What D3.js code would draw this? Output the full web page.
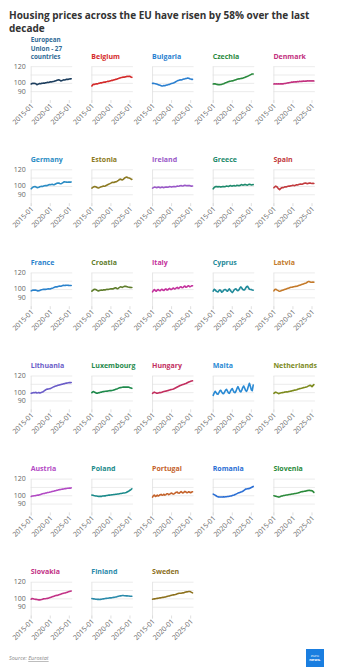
<!DOCTYPE html>
<html><head><meta charset="utf-8">
<script src="https://cdn.jsdelivr.net/npm/d3@7"></script>
<style>
html,body{margin:0;padding:0;background:#fff;}
svg{display:block;font-family:"Open Sans",sans-serif;}
</style></head><body>
<svg id="c" width="360" height="672"></svg>
<script>
const quarters = [
"2015-01","2015-04","2015-07","2015-10","2016-01","2016-04","2016-07","2016-10",
"2017-01","2017-04","2017-07","2017-10","2018-01","2018-04","2018-07","2018-10",
"2019-01","2019-04","2019-07","2019-10","2020-01","2020-04","2020-07","2020-10",
"2021-01","2021-04","2021-07","2021-10","2022-01","2022-04","2022-07","2022-10",
"2023-01","2023-04","2023-07","2023-10","2024-01","2024-04","2024-07","2024-10",
"2025-01","2025-04","2025-07"];

const countries = ["European Union - 27 countries","Belgium","Bulgaria","Czechia","Denmark",
"Germany","Estonia","Ireland","Greece","Spain",
"France","Croatia","Italy","Cyprus","Latvia",
"Lithuania","Luxembourg","Hungary","Malta","Netherlands",
"Austria","Poland","Portugal","Romania","Slovenia",
"Slovakia","Finland","Sweden"];

const lineColors = ["#1d3e5e","#d42a2a","#2a7fd0","#2a8a3e","#c2307e",
"#2b8cc4","#8c7a22","#9a58c8","#1d8a6c","#c23a3e",
"#2a82cc","#5f7d2c","#c4319c","#1f8a9a","#c47a2a",
"#6a5cc8","#1f8a4c","#c22e5e","#2a8ad4","#7c8a1c",
"#b24ac4","#1a8a8a","#c4622a","#2a6ed4","#2a8a3a",
"#c23286","#2a8aaa","#8c701c"];

const labelColors = ["#2f6a96","#d42a2a","#2a7fd0","#2a8a3e","#c2307e",
"#2b8cc4","#8c7a22","#9a58c8","#1d8a6c","#c23a3e",
"#2a82cc","#5f7d2c","#c4319c","#1f8a9a","#c47a2a",
"#6a5cc8","#1f8a4c","#c22e5e","#2a8ad4","#7c8a1c",
"#b24ac4","#1a8a8a","#c4622a","#2a6ed4","#2a8a3a",
"#c23286","#2a8aaa","#8c701c"];

const eu = [99.2,99.8,100.2,99.8, 100.0,99.4,98.4,98.8, 99.4,99.8,99.6,100.0, 100.2,100.4,100.2,100.8, 100.8,101.2,101.0,101.4, 101.8,101.6,102.0,102.2, 102.4,102.8,103.2,103.6, 104.0,104.2,103.8,103.0, 103.2,103.6,104.2,104.0, 104.4,104.8,105.0,104.8, 105.2,105.4,105.6];
const belgium = [96.8,98.4,99.0,98.8, 99.2,99.6,99.4,100.0, 100.2,100.6,100.4,101.0, 101.2,101.6,101.4,102.0, 102.2,102.6,102.4,103.0, 103.2,103.6,103.6,104.2, 104.4,104.8,105.0,105.6, 105.8,106.4,106.6,107.0, 107.2,107.6,107.4,107.8, 108.0,108.4,108.2,108.6, 108.4,107.6,107.2];
const bulgaria = [100.0,100.2,99.8,99.6, 99.2,98.8,98.4,98.0, 97.6,97.2,96.8,97.0, 97.4,97.2,97.6,98.0, 98.2,98.6,98.8,99.4, 99.8,100.2,100.4,101.0, 101.6,102.4,103.0,103.4, 103.8,104.2,104.0,104.4, 104.8,105.2,105.4,105.8, 106.0,106.4,106.2,105.6, 105.2,104.8,104.8];
const czechia = [99.2,99.6,99.4,99.0, 98.8,98.4,98.6,98.4, 98.6,98.8,99.2,99.6, 100.2,100.6,101.0,101.6, 102.0,102.4,102.6,102.8, 103.0,103.2,103.6,104.0, 104.4,104.8,105.2,105.4, 105.6,105.8,106.0,106.2, 106.6,107.0,107.6,108.0, 108.4,109.0,109.6,110.2, 110.8,111.2,111.2];
const denmark = [99.2,99.4,99.2,99.4, 99.2,99.4,99.2,99.6, 99.4,99.6,99.4,99.8, 99.8,100.2,100.4,100.6, 100.8,101.0,101.2,101.6, 101.4,101.8,101.6,102.0, 101.8,102.2,102.0,102.4, 102.2,102.6,102.4,102.8, 102.6,102.8,102.6,103.0, 102.8,103.0,102.8,103.0, 102.8,103.0,102.8];
const germany = [97.2,98.4,99.2,99.6, 99.8,99.4,98.8,98.6, 99.0,99.6,100.0,100.2, 100.0,100.4,100.8,101.2, 101.0,101.2,101.8,102.2, 102.0,102.4,102.6,102.2, 102.0,102.6,103.2,103.8, 104.0,104.2,103.6,103.2, 103.6,104.4,105.2,105.6, 105.4,105.2,105.0,105.2, 105.4,105.2,105.4];
const estonia = [98.0,98.8,99.6,100.0, 99.6,99.0,98.4,98.2, 98.6,99.2,99.6,100.0, 100.4,100.2,100.6,101.2, 101.8,102.4,102.8,103.4, 104.0,104.8,105.0,104.8, 105.2,105.6,105.8,106.6, 107.4,108.4,108.8,108.2, 107.8,108.6,109.6,110.6, 111.2,111.0,110.4,110.2, 109.8,109.0,108.4];
const ireland = [98.0,98.6,99.2,99.0, 98.6,98.8,99.4,99.0, 98.4,98.8,99.2,98.8, 98.6,99.0,99.4,99.2, 99.0,99.4,99.8,99.6, 99.2,99.6,100.0,99.8, 99.6,100.0,100.4,100.2, 100.4,100.8,101.0,100.6, 100.6,101.0,101.4,101.2, 100.8,101.0,101.2,101.0, 100.6,100.4,100.6];
const greece = [97.2,98.6,99.6,100.0, 99.8,99.4,99.8,99.6, 99.2,99.6,100.0,99.8, 99.6,100.0,100.4,100.2, 100.0,100.6,101.0,100.6, 100.4,100.8,101.0,100.6, 100.8,101.4,101.2,101.0, 101.2,101.8,102.2,101.6, 101.8,102.4,102.2,101.8, 101.6,102.2,102.6,102.2, 101.8,102.0,102.2];
const spain = [98.4,99.6,100.4,99.8, 98.4,97.0,96.2,97.4, 98.4,98.8,98.6,99.2, 99.6,99.4,99.8,100.2, 100.6,100.4,100.8,101.0, 101.4,101.2,101.0,101.6, 102.0,101.8,102.2,102.6, 103.0,102.6,102.8,103.4, 103.8,104.2,103.8,103.4, 103.6,104.0,104.2,103.8, 103.6,103.8,103.6];
const france = [98.4,99.0,99.4,99.2, 99.6,99.2,98.8,98.4, 98.6,99.0,99.4,99.8, 100.0,100.2,100.4,100.2, 100.4,100.6,100.8,100.6, 100.8,101.2,101.6,102.0, 102.6,103.0,103.4,103.2, 103.6,104.0,104.2,104.0, 104.4,104.8,105.0,104.8, 105.0,105.2,105.2,105.0, 104.8,104.8,104.8];
const croatia = [98.0,99.0,100.0,100.4, 100.0,99.4,98.6,98.4, 98.8,99.2,99.4,99.2, 99.6,99.8,99.6,100.0, 100.2,100.0,100.4,100.6, 100.8,101.0,100.6,101.2, 101.8,102.2,101.4,101.0, 101.8,102.6,103.2,103.0, 102.6,103.2,103.8,104.0, 103.8,103.4,103.0,102.8, 102.6,102.4,102.4];
const italy = [97.2,99.0,100.0,98.6, 98.0,99.4,100.0,98.8, 98.6,99.8,100.4,99.2, 99.0,100.2,100.8,99.6, 99.6,100.8,101.4,100.0, 100.2,101.2,101.8,100.6, 101.0,102.2,102.6,101.4, 101.8,103.0,103.4,102.2, 102.4,103.6,104.2,102.8, 103.2,104.2,104.6,103.4, 103.8,104.4,104.6];
const cyprus = [98.0,100.4,99.6,98.2, 97.6,97.2,98.6,99.6, 98.6,96.8,97.6,99.2, 100.0,100.0,98.6,98.0, 99.6,100.8,99.0,97.6, 96.4,97.8,99.6,100.6, 100.8,99.2,98.6,99.6, 101.8,103.2,101.8,100.0, 99.6,99.6,101.6,103.4, 104.0,102.2,100.4,100.0, 100.0,99.4,99.2];
const latvia = [98.4,100.0,100.4,99.6, 99.0,98.4,98.0,98.2, 98.8,99.2,99.6,100.0, 100.4,100.8,101.2,101.6, 102.0,102.4,102.8,102.8, 103.2,103.4,103.6,103.8, 104.0,104.4,104.8,105.2, 105.6,106.0,106.4,106.8, 107.2,107.6,108.0,108.8, 109.6,109.6,109.2,108.8, 108.8,109.0,108.8];
const lithuania = [99.2,99.6,100.0,99.8, 100.0,100.4,99.6,99.8, 100.2,99.6,100.0,100.4, 100.8,101.6,102.4,103.2, 104.0,104.2,104.4,104.6, 104.8,105.4,106.0,106.6, 107.2,107.6,108.0,108.4, 108.8,109.0,109.4,109.6, 110.0,110.2,110.6,110.8, 111.2,111.4,111.6,111.8, 112.0,112.0,112.2];
const luxembourg = [100.0,101.0,101.2,100.4, 99.8,99.2,99.4,99.8, 100.0,100.4,100.6,101.0, 101.2,101.4,101.6,101.6, 101.8,102.0,102.2,102.4, 102.4,102.6,102.8,103.2, 103.6,104.0,104.4,104.8, 105.4,105.8,106.0,106.2, 106.4,106.6,106.8,106.6, 106.8,106.6,106.8,106.4, 106.0,105.6,105.2];
const hungary = [99.2,100.2,100.6,100.0, 99.4,99.2,99.6,100.0, 100.0,100.2,100.6,101.0, 101.4,101.6,101.8,102.2, 102.4,102.8,103.2,103.6, 103.8,104.0,104.4,105.0, 105.6,106.2,106.8,107.4, 108.0,108.6,109.0,109.4, 109.8,110.2,110.6,111.0, 111.6,112.2,112.8,113.2, 113.6,114.0,114.2];
const malta = [96.8,99.4,101.6,100.2, 98.4,98.0,100.0,102.2, 102.8,100.6,99.0,98.8, 101.0,103.0,104.0,101.8, 99.6,99.2,101.4,103.6, 104.8,102.4,100.4,100.0, 102.0,105.0,107.2,104.6, 101.8,100.8,103.0,106.0, 108.0,105.6,102.6,101.6, 104.0,108.0,111.2,107.6, 103.4,102.4,109.0];
const netherlands = [99.2,100.2,100.6,100.0, 99.4,98.8,99.2,99.6, 99.8,100.0,100.2,100.6, 100.8,101.0,100.8,101.2, 101.4,101.6,101.8,102.2, 102.4,102.8,103.0,103.2, 103.4,104.0,104.4,104.8, 105.0,105.2,105.6,106.0, 106.2,106.4,106.8,107.2, 107.8,108.4,108.8,108.2, 107.2,108.4,109.6];
const austria = [99.2,99.6,99.8,100.0, 100.0,100.4,100.6,100.8, 100.8,101.2,101.6,102.0, 102.4,102.6,102.8,103.2, 103.4,103.8,104.0,104.2, 104.6,104.8,105.2,105.4, 105.6,106.0,106.2,106.6, 106.8,107.2,107.4,107.6, 107.8,108.0,108.2,108.4, 108.6,108.8,109.0,109.0, 109.2,109.2,109.4];
const poland = [100.8,100.6,100.2,100.0, 99.8,99.6,99.4,99.2, 99.2,99.4,99.2,99.6, 99.8,100.0,99.8,100.2, 100.4,100.6,100.8,100.8, 101.0,101.2,101.2,101.4, 101.6,101.8,101.8,102.0, 102.2,102.4,102.6,102.8, 103.0,103.2,103.4,103.6, 104.0,104.6,105.2,105.8, 106.6,107.4,108.4];
const portugal = [98.4,100.2,100.8,99.2, 99.6,100.8,99.8,100.4, 101.2,101.6,100.6,101.0, 101.8,100.8,101.4,102.4, 102.4,101.4,101.8,102.8, 103.2,102.4,102.0,102.6, 103.6,104.2,104.4,103.2, 103.0,104.0,105.0,104.0, 103.4,104.2,105.2,104.6, 103.6,104.0,104.8,104.2, 103.6,104.4,104.8];
const romania = [102.0,101.4,100.8,100.0, 99.2,98.8,98.4,98.6, 98.4,98.6,98.4,98.8, 98.6,98.8,98.8,99.0, 99.2,99.4,99.6,99.8, 100.2,100.6,100.8,101.4, 102.0,102.6,103.2,103.6, 104.0,104.4,104.8,105.4, 106.2,107.0,108.0,108.2, 108.4,108.6,108.8,109.4, 110.0,110.6,111.2];
const slovenia = [100.0,99.8,99.4,99.0, 98.8,98.4,98.6,99.2, 99.6,99.8,100.2,100.4, 100.6,100.8,101.0,101.2, 101.4,101.6,101.8,102.0, 102.2,102.4,102.6,102.8, 103.0,103.2,103.6,104.0, 104.4,104.8,105.0,105.2, 105.4,105.6,105.8,106.2, 106.4,106.6,106.4,106.2, 106.0,105.2,104.0];
const slovakia = [99.6,100.4,100.2,99.8, 99.6,99.4,99.2,99.0, 98.8,98.8,99.0,99.2, 99.6,100.0,100.2,100.2, 100.4,100.6,100.8,101.2, 101.6,102.0,102.4,102.8, 103.2,103.6,104.0,104.2, 104.4,104.8,105.2,105.6, 106.0,106.4,106.8,107.0, 107.2,107.6,108.0,108.4, 108.8,109.2,109.4];
const finland = [100.4,100.2,100.0,99.8, 99.6,99.6,99.4,99.4, 99.2,99.4,99.6,99.8, 100.0,100.2,100.4,100.6, 100.8,100.8,101.0,101.2, 101.2,101.4,101.6,101.8, 102.0,102.2,102.4,102.8, 103.2,103.4,103.6,103.8, 104.0,104.0,103.8,103.8, 103.6,103.6,103.4,103.4, 103.2,103.2,103.2];
const sweden = [99.6,99.8,100.0,100.2, 100.4,100.6,100.8,101.0, 101.2,101.4,101.6,101.8, 102.0,102.2,102.4,102.8, 103.2,103.4,103.6,104.0, 104.4,104.6,104.8,105.0, 105.2,105.6,106.0,106.4, 106.8,106.8,106.8,107.0, 107.2,107.4,107.8,108.2, 108.4,108.6,108.8,108.8, 108.4,107.8,107.2];

const seriesValues = [eu,belgium,bulgaria,czechia,denmark,germany,estonia,ireland,greece,spain,
  france,croatia,italy,cyprus,latvia,lithuania,luxembourg,hungary,malta,netherlands,
  austria,poland,portugal,romania,slovenia,slovakia,finland,sweden];

const xTickLabels = ["2015-01","2020-01","2025-01"];
const yTickLabels = [120,100,90];
const yGridValues = [90,100,110,120];
const yDomain = [80,120];
const xDomain = ["2015-01","2025-07"];
const titleLines = ["Housing prices across the EU have risen by 58% over the last","decade"];
const sourceText = "Eurostat";

const parse = d3.timeParse("%Y-%m");
const svg = d3.select("#c");

svg.selectAll("text.title").data(titleLines).join("text")
  .attr("class", "title").attr("x", 9).attr("y", (d, i) => 18.8 + i * 13.6)
  .attr("font-size", 10).attr("font-weight", 700).attr("fill", "#333").text(d => d);

const colX0 = 30.7, colPitch = 60.67, rowY0 = 66.7, rowPitch = 103.1, plotW = 41.5, plotH = 33.3;

seriesValues.forEach((vals, k) => {
  const col = k % 5, row = Math.floor(k / 5);
  const x0 = colX0 + col * colPitch, yTop = rowY0 + row * rowPitch;
  const g = svg.append("g");
  const x = d3.scaleTime().domain(xDomain.map(parse)).range([x0 + 0.5, x0 + 40.5]);
  const y = d3.scaleLinear().domain(yDomain).range([yTop + plotH, yTop]);

  g.selectAll("line.grid").data(yGridValues).join("line")
    .attr("x1", x0).attr("x2", x0 + plotW)
    .attr("y1", d => y(d)).attr("y2", d => y(d))
    .attr("stroke", "#e6e6e6").attr("stroke-width", 0.8);
  g.append("line").attr("x1", x0 + 0.5).attr("x2", x0 + 0.5)
    .attr("y1", y(120)).attr("y2", y(80) + 3)
    .attr("stroke", "#e0e0e0").attr("stroke-width", 0.8);
  const tickDates = xTickLabels.map(parse);
  g.selectAll("line.xt").data(tickDates).join("line")
    .attr("x1", d => x(d)).attr("x2", d => x(d))
    .attr("y1", y(80)).attr("y2", y(80) + 3)
    .attr("stroke", "#d8d8d8").attr("stroke-width", 0.8);
  g.selectAll("text.xl").data(xTickLabels).join("text")
    .attr("transform", d => `translate(${x(parse(d)) + 1.5},${y(80) + 5}) rotate(-45)`)
    .attr("text-anchor", "end").attr("dominant-baseline", "middle")
    .attr("font-size", 7).attr("fill", "#666").text(d => d);

  if (col === 0) {
    g.selectAll("text.yl").data(yTickLabels).join("text")
      .attr("x", x0 - 5).attr("y", d => y(d))
      .attr("text-anchor", "end").attr("dominant-baseline", "middle")
      .attr("font-size", 7).attr("fill", "#666").text(d => d);
  }

  const name = countries[k];
  const lines = k === 0 ? ["European", "Union - 27", "countries"] : [name];
  const fs = k === 0 ? 6.3 : 7, lh = 8.6;
  const baseY = k === 0 ? yTop - 7.3 : yTop - 8;
  g.selectAll("text.nm").data(lines).join("text")
    .attr("x", x0).attr("y", (d, i) => baseY - (lines.length - 1 - i) * lh)
    .attr("font-size", fs).attr("font-weight", 700).attr("fill", labelColors[k]).text(d => d);

  const line = d3.line().x((d, i) => x(parse(quarters[i]))).y(d => y(d));
  g.append("path").datum(vals).attr("d", line)
    .attr("fill", "none").attr("stroke", lineColors[k]).attr("stroke-width", 1.6)
    .attr("stroke-linejoin", "round").attr("stroke-linecap", "round");
});

const src = svg.append("text").attr("x", 9).attr("y", 660).attr("font-size", 5.5)
  .attr("font-style", "italic").attr("fill", "#888");
src.append("tspan").text("Source: ");
src.append("tspan").attr("text-decoration", "underline").text(sourceText);

svg.append("rect").attr("x", 306).attr("y", 649).attr("width", 18).attr("height", 18).attr("fill", "#1a7ee0");
svg.append("text").attr("x", 315).attr("y", 656.5).attr("text-anchor", "middle").attr("font-size", 3.8).attr("fill", "#fff").text("euro");
svg.append("text").attr("x", 315).attr("y", 661).attr("text-anchor", "middle").attr("font-size", 4).attr("font-weight", 700).attr("fill", "#fff").text("news.");
</script>
</body></html>
